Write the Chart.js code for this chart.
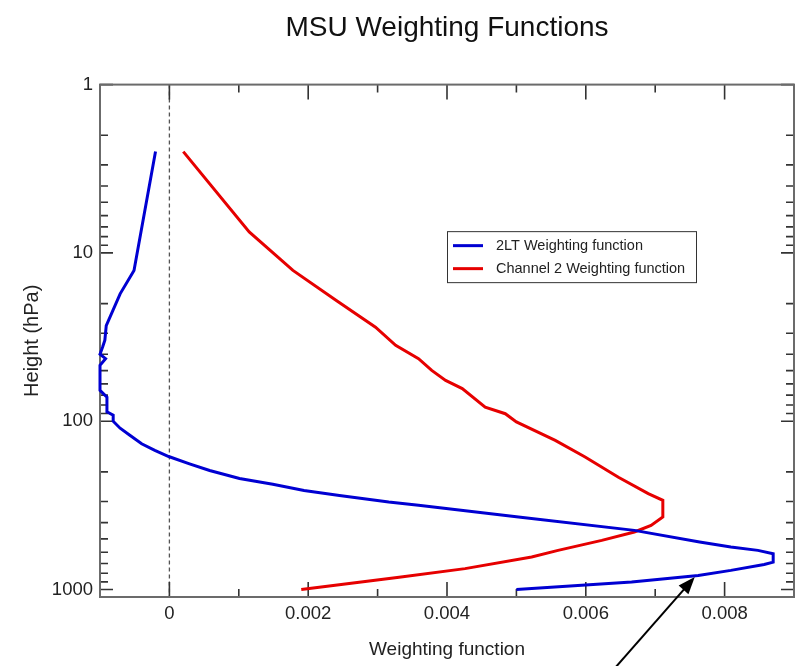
<!DOCTYPE html>
<html>
<head>
<meta charset="utf-8">
<title>MSU Weighting Functions</title>
<script src="https://cdn.jsdelivr.net/npm/chart.js@4.4.1/dist/chart.umd.min.js"></script>
<style>
    html, body { margin: 0; padding: 0; background: #ffffff; }
    #wrap { width: 800px; height: 666px; }
</style>
</head>
<body>
<div id="wrap"><canvas id="msuChart" width="800" height="666"></canvas></div>
<script>
// Kurvenbeschriftungen
const blueLabel = "2LT Weighting function";
const redLabel = "Channel 2 Weighting function";

// 2LT: Druckniveau (hPa) und Gewicht, von oben nach unten
const bluePressure = [2.5, 12.7, 17.5, 27, 33, 36, 40, 42.5, 46.5, 65.5, 72, 88, 92, 100, 110, 121, 136, 149, 162,
    179, 196, 219, 237, 258, 276, 302, 316, 371, 445, 522, 559, 585, 612, 687, 709, 769, 824, 902, 1000];
const blueWeight = [-0.0002, -0.00051, -0.00071, -0.00091, -0.00093, -0.00096, -0.001, -0.00092, -0.001, -0.001,
    -0.0009, -0.0009, -0.00081, -0.00081, -0.00071, -0.00057, -0.0004, -0.00021, -0.00001, 0.00029, 0.00058,
    0.00101, 0.00149, 0.00194, 0.00245, 0.00316, 0.00359, 0.00503, 0.0067, 0.00764, 0.00809, 0.00848, 0.0087,
    0.0087, 0.00857, 0.00809, 0.00762, 0.00666, 0.005];

// Kanal 2: Druckniveau (hPa) und Gewicht
const redPressure = [2.5, 7.5, 12.7, 19.1, 27.6, 35.4, 42.5, 49.9, 57.2, 64, 82.4, 90.2, 101, 130, 163, 215,
    269, 295, 371, 416, 455, 510, 585, 641, 751, 844, 1000];
const redWeight = [0.0002, 0.00115, 0.00178, 0.0024, 0.00297, 0.00326, 0.00359, 0.00378, 0.00398, 0.00422,
    0.00455, 0.00484, 0.005, 0.00556, 0.00599, 0.00647, 0.0069, 0.00711, 0.00711, 0.00694, 0.0067, 0.00623,
    0.0056, 0.00522, 0.00426, 0.00331, 0.0019];

// Achsen
const xMin = -0.001, xMax = 0.009;
const yMin = 1, yMax = 1107;
const xTickValues = [-0.001, 0, 0.001, 0.002, 0.003, 0.004, 0.005, 0.006, 0.007, 0.008, 0.009];
const xLabelTicks = [0, 0.002, 0.004, 0.006, 0.008];
const yTickValues = [1, 2, 3, 4, 5, 6, 7, 8, 9, 10, 20, 30, 40, 50, 60, 70, 80, 90,
    100, 200, 300, 400, 500, 600, 700, 800, 900, 1000];
const yLabelTicks = [1, 10, 100, 1000];

// Pfeil zeigt auf die 2LT-Kurve (Datenkoordinaten)
const arrowTip = { x: 0.00757, y: 843 };

const BLUE = "#0000d2";
const RED = "#e60000";
const FONT = "'Liberation Sans', Arial, Helvetica, sans-serif";

function toPoints(weights, pressures) {
    return pressures.map((p, i) => ({ x: weights[i], y: p }));
}

function isIn(list, v) {
    return list.some(t => Math.abs(t - v) < 1e-9);
}

/**
 * Rahmen, nach innen zeigende Ticks und gestrichelte Null-Linie.
 */
const framePlugin = {
    id: "frame",
    beforeDatasetsDraw(chart) {
        const { ctx, chartArea: a, scales } = chart;
        const xs = scales.x, ys = scales.y;
        ctx.save();

        // gestrichelte Linie bei x = 0
        const x0 = xs.getPixelForValue(0);
        ctx.strokeStyle = "#555";
        ctx.lineWidth = 1.3;
        ctx.setLineDash([4, 3]);
        ctx.beginPath();
        ctx.moveTo(x0, a.top);
        ctx.lineTo(x0, a.bottom);
        ctx.stroke();
        ctx.setLineDash([]);

        // Ticks
        ctx.strokeStyle = "#333";
        ctx.lineWidth = 1.6;
        xs.ticks.forEach(t => {
            const px = xs.getPixelForValue(t.value);
            const len = isIn(xLabelTicks, t.value) ? 15 : 8;
            ctx.beginPath();
            ctx.moveTo(px, a.bottom);
            ctx.lineTo(px, a.bottom - len);
            ctx.moveTo(px, a.top);
            ctx.lineTo(px, a.top + len);
            ctx.stroke();
        });
        ys.ticks.forEach(t => {
            const py = ys.getPixelForValue(t.value);
            const len = isIn(yLabelTicks, t.value) ? 13 : 8;
            ctx.beginPath();
            ctx.moveTo(a.left, py);
            ctx.lineTo(a.left + len, py);
            ctx.moveTo(a.right, py);
            ctx.lineTo(a.right - len, py);
            ctx.stroke();
        });

        // Rahmen
        ctx.strokeStyle = "#6b6b6b";
        ctx.lineWidth = 2;
        ctx.strokeRect(a.left, a.top, a.right - a.left, a.bottom - a.top);
        ctx.restore();
    }
};

/**
 * Legende im Diagramm und Pfeil zur 2LT-Kurve.
 */
const overlayPlugin = {
    id: "overlay",
    afterDraw(chart) {
        const { ctx, chartArea: a, scales } = chart;
        ctx.save();

        // Legende
        const bx = a.left + 0.5 * (a.right - a.left);
        const by = a.top + 0.286 * (a.bottom - a.top);
        ctx.fillStyle = "#fff";
        ctx.fillRect(bx, by, 249, 51);
        ctx.strokeStyle = "#333";
        ctx.lineWidth = 1;
        ctx.strokeRect(bx + 0.5, by + 0.5, 249, 51);
        ctx.font = "14.5px " + FONT;
        ctx.textBaseline = "middle";
        chart.data.datasets.forEach((ds, i) => {
            const ry = by + 14.5 + i * 23;
            ctx.strokeStyle = ds.borderColor;
            ctx.lineWidth = 3;
            ctx.beginPath();
            ctx.moveTo(bx + 6, ry);
            ctx.lineTo(bx + 36, ry);
            ctx.stroke();
            ctx.fillStyle = "#222";
            ctx.fillText(ds.label, bx + 49, ry);
        });

        // Pfeil
        const tx = scales.x.getPixelForValue(arrowTip.x);
        const ty = scales.y.getPixelForValue(arrowTip.y);
        const ang = Math.atan2(-90, 79);
        const sx = tx - 79 * 1.2, sy = ty + 90 * 1.2;
        ctx.strokeStyle = "#000";
        ctx.fillStyle = "#000";
        ctx.lineWidth = 2;
        ctx.beginPath();
        ctx.moveTo(sx, sy);
        ctx.lineTo(tx - 10 * Math.cos(ang), ty - 10 * Math.sin(ang));
        ctx.stroke();
        const hl = 17, hw = 6.5;
        const bxh = tx - hl * Math.cos(ang), byh = ty - hl * Math.sin(ang);
        ctx.beginPath();
        ctx.moveTo(tx, ty);
        ctx.lineTo(bxh + hw * Math.sin(ang), byh - hw * Math.cos(ang));
        ctx.lineTo(bxh - hw * Math.sin(ang), byh + hw * Math.cos(ang));
        ctx.closePath();
        ctx.fill();
        ctx.restore();
    }
};

function renderChart() {
    const canvas = document.getElementById("msuChart");
    const ctx = canvas.getContext("2d");
    Chart.defaults.font.family = FONT;
    Chart.defaults.color = "#222";

    new Chart(ctx, {
        type: "scatter",
        data: {
            datasets: [{
                label: blueLabel,
                data: toPoints(blueWeight, bluePressure),
                showLine: true,
                borderColor: BLUE,
                backgroundColor: BLUE,
                borderWidth: 3,
                pointRadius: 0,
                tension: 0,
                clip: 4
            }, {
                label: redLabel,
                data: toPoints(redWeight, redPressure),
                showLine: true,
                borderColor: RED,
                backgroundColor: RED,
                borderWidth: 3,
                pointRadius: 0,
                tension: 0,
                clip: 4
            }]
        },
        options: {
            responsive: false,
            animation: false,
            layout: { padding: { left: 0, right: 4, top: 0, bottom: 0 } },
            plugins: {
                legend: { display: false },
                tooltip: { enabled: false },
                title: {
                    display: true,
                    fullSize: false,
                    text: "MSU Weighting Functions",
                    color: "#111",
                    font: { size: 28, weight: "normal", lineHeight: 1.2 },
                    padding: { top: 11, bottom: 40 }
                }
            },
            scales: {
                x: {
                    type: "linear",
                    min: xMin,
                    max: xMax,
                    grid: { display: false, drawTicks: false },
                    border: { display: false },
                    afterBuildTicks: scale => { scale.ticks = xTickValues.map(v => ({ value: v })); },
                    afterFit: scale => { scale.height = 69; },
                    ticks: {
                        autoSkip: false,
                        maxRotation: 0,
                        padding: 6,
                        font: { size: 18.5 },
                        callback: v => isIn(xLabelTicks, v) ? (Math.abs(v) < 1e-12 ? "0" : v.toFixed(3)) : ""
                    },
                    title: {
                        display: true,
                        text: "Weighting function",
                        font: { size: 19 },
                        padding: { top: 0, bottom: 5 }
                    }
                },
                y: {
                    type: "logarithmic",
                    reverse: true,
                    min: yMin,
                    max: yMax,
                    grid: { display: false, drawTicks: false },
                    border: { display: false },
                    afterBuildTicks: scale => { scale.ticks = yTickValues.map(v => ({ value: v })); },
                    afterFit: scale => { scale.width = 100; },
                    ticks: {
                        autoSkip: false,
                        padding: 7,
                        font: { size: 18.5 },
                        callback: v => isIn(yLabelTicks, v) ? String(v) : ""
                    },
                    title: {
                        display: true,
                        text: "Height (hPa)",
                        font: { size: 20 },
                        padding: { top: 20, bottom: 0 }
                    }
                }
            }
        },
        plugins: [framePlugin, overlayPlugin]
    });
}

if (document.readyState === "loading") {
    document.addEventListener("DOMContentLoaded", renderChart);
} else {
    renderChart();
}
</script>
</body>
</html>
